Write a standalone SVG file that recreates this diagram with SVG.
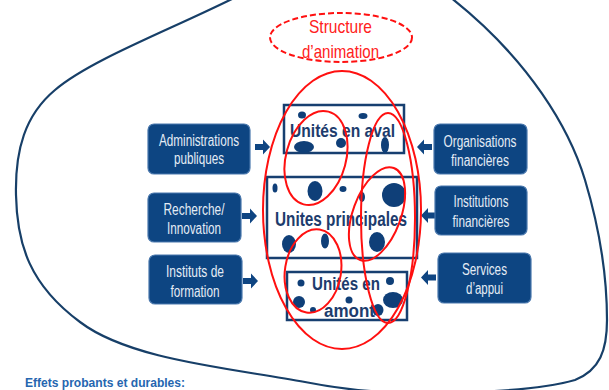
<svg xmlns="http://www.w3.org/2000/svg" width="609" height="390" viewBox="0 0 609 390">
<style>
.blob{fill:none;stroke:#173f68;stroke-width:2.2}
.box{fill:#0d4582;stroke:#4a78ad;stroke-width:1.2}
.btxt{font-family:'Liberation Sans Narrow','Liberation Sans',Arial,sans-serif;font-size:16px;fill:#e4ecf5;text-anchor:middle}
.unit{fill:#ffffff;stroke:#173f70;stroke-width:2.5}
.utxt{font-family:'Liberation Sans Narrow','Liberation Sans',Arial,sans-serif;font-weight:bold;fill:#1d3c6d}
.dot{fill:#0f3f78}
.red{fill:none;stroke:#ff1010;stroke-width:2}
.arrow{fill:#0f4582}
.rtxt{font-family:'Liberation Sans Narrow','Liberation Sans',Arial,sans-serif;font-size:19px;fill:#ff2020;text-anchor:middle}
</style>
<defs>
<path id="arr" d="M0,-3 H8 V-7.5 L15,0 L8,7.5 V3 H0 Z"/>
</defs>
<rect width="609" height="390" fill="#ffffff"/>
<path class="blob" d="M236,-3 C170,30 90,60 55,90 C25,115 15,150 16,195 C17,245 30,285 80,322 C130,360 230,368 305,382 C340,389 380,393 420,393 C480,393 540,390 575,380 C600,370 607,350 607,320 C607,280 600,230 585,180 C570,130 530,60 450,-3"/>

<g id="connectors">
<use href="#arr" class="arrow" transform="translate(255,147)"/>
<use href="#arr" class="arrow" transform="translate(242,216)"/>
<use href="#arr" class="arrow" transform="translate(243,281)"/>
<use href="#arr" class="arrow" transform="translate(432,147) scale(-1,1)"/>
<use href="#arr" class="arrow" transform="translate(436,215.5) scale(-1,1)"/>
<use href="#arr" class="arrow" transform="translate(436,277.5) scale(-1,1)"/>
</g>

<g id="admin">
<rect class="box" x="148" y="124" width="102" height="50" rx="6"/>
<text class="btxt" x="199" y="146" textLength="80" lengthAdjust="spacingAndGlyphs">Administrations</text>
<text class="btxt" x="199" y="164" textLength="50" lengthAdjust="spacingAndGlyphs">publiques</text>
</g>
<g id="recherche">
<rect class="box" x="148" y="193" width="93" height="49" rx="6"/>
<text class="btxt" x="194" y="215" textLength="61" lengthAdjust="spacingAndGlyphs">Recherche/</text>
<text class="btxt" x="194" y="234" textLength="54" lengthAdjust="spacingAndGlyphs">Innovation</text>
</g>
<g id="instituts">
<rect class="box" x="149" y="255" width="93" height="49" rx="6"/>
<text class="btxt" x="195" y="277" textLength="58" lengthAdjust="spacingAndGlyphs">Instituts  de</text>
<text class="btxt" x="195" y="297" textLength="49" lengthAdjust="spacingAndGlyphs">formation</text>
</g>
<g id="organisations">
<rect class="box" x="434" y="124" width="93" height="50" rx="6"/>
<text class="btxt" x="480" y="147" textLength="73" lengthAdjust="spacingAndGlyphs">Organisations</text>
<text class="btxt" x="480" y="166" textLength="58" lengthAdjust="spacingAndGlyphs">financières</text>
</g>
<g id="institutions">
<rect class="box" x="435" y="186" width="92" height="49" rx="6"/>
<text class="btxt" x="481" y="207" textLength="55" lengthAdjust="spacingAndGlyphs">Institutions</text>
<text class="btxt" x="481" y="227" textLength="57" lengthAdjust="spacingAndGlyphs">financières</text>
</g>
<g id="services">
<rect class="box" x="438" y="253" width="93" height="50" rx="6"/>
<text class="btxt" x="484.5" y="275" textLength="45" lengthAdjust="spacingAndGlyphs">Services</text>
<text class="btxt" x="484.5" y="294" textLength="37" lengthAdjust="spacingAndGlyphs">d’appui</text>
</g>

<g id="aval">
<rect class="unit" x="284" y="105" width="120" height="48"/>
<ellipse class="dot" cx="302" cy="115" rx="4" ry="3.5"/>
<ellipse class="dot" cx="363" cy="116" rx="4.5" ry="3"/>
<ellipse class="dot" cx="304" cy="147" rx="10" ry="6"/>
<ellipse class="dot" cx="341" cy="143" rx="5" ry="5"/>
<ellipse class="dot" cx="385" cy="145" rx="4" ry="8"/>
<text class="utxt" x="290" y="137" font-size="19" textLength="105" lengthAdjust="spacingAndGlyphs">Unités en aval</text>
</g>
<g id="principales">
<rect class="unit" x="267" y="177" width="150" height="81"/>
<ellipse class="dot" cx="275" cy="188" rx="2.5" ry="4.5"/>
<ellipse class="dot" cx="315" cy="191" rx="7.5" ry="10"/>
<ellipse class="dot" cx="343" cy="189" rx="3.5" ry="3"/>
<ellipse class="dot" cx="362" cy="197" rx="3" ry="5"/>
<ellipse class="dot" cx="394" cy="195" rx="12" ry="12"/>
<ellipse class="dot" cx="289" cy="244" rx="7" ry="9"/>
<ellipse class="dot" cx="325" cy="241" rx="4" ry="7.5"/>
<ellipse class="dot" cx="377" cy="242" rx="8" ry="10"/>
<text class="utxt" x="275" y="226" font-size="20" textLength="132" lengthAdjust="spacingAndGlyphs">Unites principales</text>
</g>
<g id="amont">
<rect class="unit" x="287" y="272" width="120" height="48"/>
<ellipse class="dot" cx="301" cy="283" rx="3.5" ry="3.5"/>
<ellipse class="dot" cx="390" cy="281" rx="4" ry="4"/>
<ellipse class="dot" cx="299" cy="302" rx="6" ry="6"/>
<ellipse class="dot" cx="349" cy="300" rx="3.5" ry="3.5"/>
<ellipse class="dot" cx="313" cy="310" rx="3" ry="3"/>
<ellipse class="dot" cx="393" cy="300" rx="10" ry="8"/>
<ellipse class="dot" cx="378" cy="310" rx="5.5" ry="6"/>
<text class="utxt" x="312" y="290" font-size="18" textLength="68" lengthAdjust="spacingAndGlyphs">Unités en</text>
<text class="utxt" x="324" y="317" font-size="18" textLength="51" lengthAdjust="spacingAndGlyphs">amont</text>
</g>

<g id="animation">
<ellipse class="red" cx="341" cy="37.5" rx="71" ry="24.5" stroke-dasharray="6,3" stroke-width="2.4"/>
<text class="rtxt" x="340.5" y="33" textLength="63" lengthAdjust="spacingAndGlyphs">Structure</text>
<text class="rtxt" x="340.5" y="58" textLength="77" lengthAdjust="spacingAndGlyphs">d’animation</text>
</g>

<g id="reseaux">
<ellipse class="red" cx="342" cy="210" rx="79" ry="139"/>
<ellipse class="red" cx="388" cy="218" rx="27" ry="105"/>
<ellipse class="red" cx="316" cy="158" rx="30" ry="48" transform="rotate(15 316 158)"/>
<ellipse class="red" cx="377" cy="214" rx="24" ry="49" transform="rotate(20 377 214)"/>
<ellipse class="red" cx="313" cy="271" rx="28" ry="42" transform="rotate(9 313 271)"/>
</g>

<text x="25" y="386.5" font-family="'Liberation Sans Narrow','Liberation Sans',Arial,sans-serif" font-weight="bold" font-size="13" fill="#2566b0" textLength="160" lengthAdjust="spacingAndGlyphs">Effets probants et durables:</text>
</svg>
